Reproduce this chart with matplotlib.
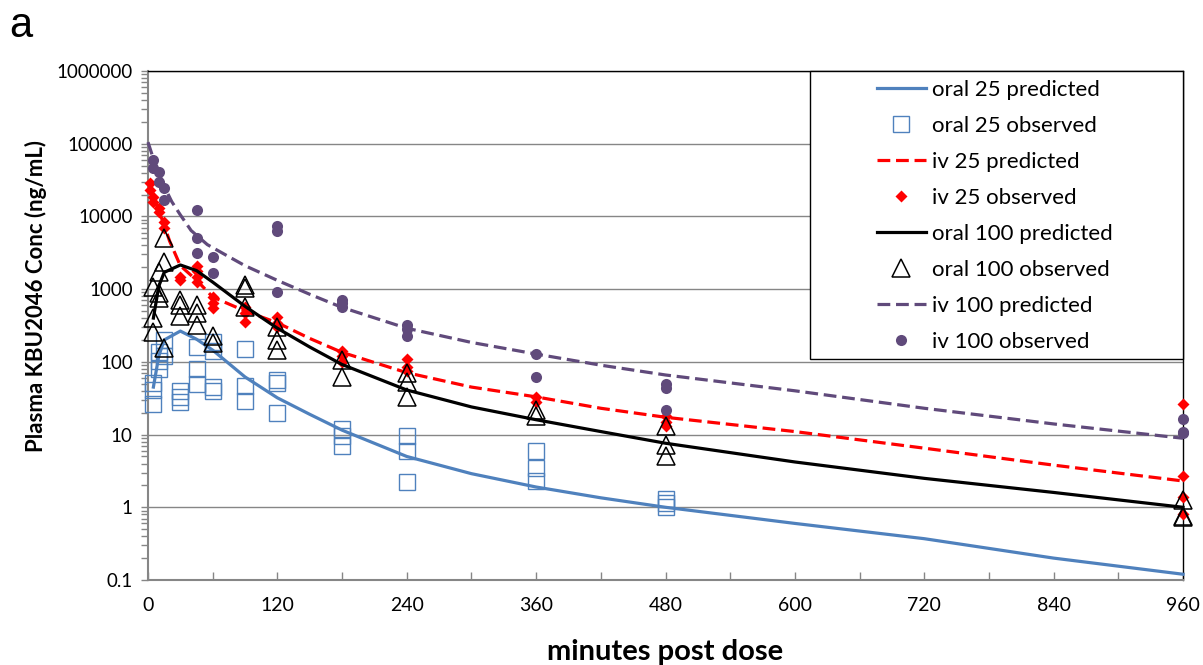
import matplotlib
matplotlib.use("Agg")
import matplotlib.pyplot as plt
from matplotlib.ticker import FixedLocator, FuncFormatter, LogLocator, NullFormatter
from matplotlib.patches import Rectangle

plt.rcParams['font.family'] = ['Lato', 'DejaVu Sans']

# model predictions (minutes, ng/mL)
oral25_pred_t = [5, 10, 15, 30, 45, 60, 90, 120, 150, 180, 240, 300, 360, 420, 480, 600, 720, 840, 960]
oral25_pred_c = [45, 120, 200, 265, 205, 145, 62, 32, 19, 11.5, 5.0, 2.9, 1.9, 1.35, 1.0, 0.6, 0.37, 0.2, 0.12]

iv25_pred_t = [0, 5, 10, 15, 20, 30, 45, 60, 90, 120, 150, 180, 240, 300, 360, 420, 480, 600, 720, 840, 960]
iv25_pred_c = [30000, 19000, 12000, 7600, 4600, 2100, 1330, 780, 500, 345, 210, 135, 71, 45, 33, 23, 17.3, 11, 6.5, 3.8, 2.3]

oral100_pred_t = [5, 10, 15, 30, 45, 60, 90, 120, 150, 180, 240, 300, 360, 420, 480, 600, 720, 840, 960]
oral100_pred_c = [400, 1100, 1700, 2150, 1800, 1250, 580, 290, 160, 92, 41, 24, 16, 11, 7.6, 4.2, 2.5, 1.6, 1.0]

iv100_pred_t = [0, 5, 10, 15, 22, 30, 40, 55, 73, 90, 120, 150, 180, 240, 300, 360, 420, 480, 600, 720, 840, 960]
iv100_pred_c = [105000, 62000, 40000, 26000, 16000, 10500, 6400, 4100, 2900, 2100, 1320, 850, 560, 290, 185,
                128, 90, 66, 40, 23, 14, 8.9]

# observed concentrations
oral25_obs_t = [5, 5, 5, 10, 10, 10, 15, 15, 30, 30, 30, 45, 45, 45, 60, 60, 60, 60,
                90, 90, 90, 120, 120, 120, 180, 180, 180, 240, 240, 240, 360, 360, 360, 480, 480, 480]
oral25_obs_c = [26, 41, 52, 81, 104, 135, 120, 200, 40, 33, 28, 160, 80, 50, 190, 140, 45, 40,
                150, 47, 29, 56, 52, 20, 12, 9.5, 7, 9.5, 6, 2.2, 6, 3.5, 2.3, 1.3, 1.15, 1.0]

iv25_obs_t = [2, 2, 5, 5, 10, 10, 15, 15, 30, 30, 45, 45, 45, 45, 60, 60, 60,
              90, 90, 90, 120, 120, 120, 180, 180, 180, 240, 240, 240, 360, 360, 480, 480, 480,
              960, 960, 960, 960]
iv25_obs_c = [29000, 23000, 18600, 16000, 13000, 11500, 8300, 6900, 1480, 1350, 2100, 1800, 1480, 1250,
              770, 640, 550, 560, 470, 350, 420, 340, 300, 140, 120, 100, 110, 85, 75, 33, 28,
              18, 15, 13, 26, 2.7, 1.4, 0.8]

oral100_obs_t = [5, 5, 5, 10, 10, 10, 15, 15, 15, 30, 30, 30, 45, 45, 45, 60, 60,
                 90, 90, 90, 120, 120, 120, 180, 180, 240, 240, 240, 360, 360, 480, 480, 480,
                 960, 960, 960]
oral100_obs_c = [1070, 400, 260, 1700, 890, 760, 5000, 2350, 155, 720, 600, 430, 600, 470, 320, 230, 180,
                 1150, 1050, 560, 300, 200, 145, 105, 62, 71, 53, 33, 22, 18, 13, 7.3, 5.0,
                 1.25, 0.75, 0.73]

iv100_obs_t = [5, 5, 10, 10, 15, 15, 45, 45, 45, 60, 60, 120, 120, 120,
               180, 180, 180, 240, 240, 240, 360, 360, 480, 480, 480, 960, 960, 960]
iv100_obs_c = [60000, 47000, 41000, 29500, 24500, 16600, 12300, 5000, 3100, 2800, 1650, 7500, 6400, 900,
               720, 650, 560, 320, 280, 230, 127, 62, 49, 44, 22, 16.5, 11, 10.5]

BLUE = '#4F81BD'
RED = '#FF0000'
PURPLE = '#604A7B'
GREY = '#868686'

fig = plt.figure(figsize=(12.03, 6.65), dpi=100)
ax = fig.add_axes([148 / 1203, 85 / 665, 1035 / 1203, 509 / 665])

ax.plot(oral25_pred_t, oral25_pred_c, color=BLUE, lw=2.3, label='oral 25 predicted', zorder=3)
ax.plot(oral25_obs_t, oral25_obs_c, ls='none', marker='s', ms=11.5, mfc='none', mec=BLUE, mew=1.0,
        label='oral 25 observed', zorder=4)
ax.plot(iv25_pred_t, iv25_pred_c, color=RED, lw=2.3, ls=(0, (4, 1.8)), label='iv 25 predicted', zorder=5)
ax.plot(iv25_obs_t, iv25_obs_c, ls='none', marker='D', ms=6.5, color=RED, mec='none',
        label='iv 25 observed', zorder=6)
ax.plot(oral100_pred_t, oral100_pred_c, color='black', lw=2.3, label='oral 100 predicted', zorder=7)
ax.plot(oral100_obs_t, oral100_obs_c, ls='none', marker='^', ms=13, mfc='none', mec='black', mew=1.1,
        label='oral 100 observed', zorder=8)
ax.plot(iv100_pred_t, iv100_pred_c, color=PURPLE, lw=2.3, ls=(0, (4, 1.8)), label='iv 100 predicted', zorder=9)
ax.plot(iv100_obs_t, iv100_obs_c, ls='none', marker='o', ms=8, color=PURPLE, mec='none',
        label='iv 100 observed', zorder=10)

ax.set_yscale('log')
ax.set_ylim(0.1, 1e6)
ax.set_xlim(0, 960)
for ln in ax.lines:
    ln.set_clip_on(False)

ax.yaxis.set_major_locator(LogLocator(base=10, numticks=20))
ax.yaxis.set_minor_locator(LogLocator(base=10, subs=range(2, 10), numticks=20))
ax.yaxis.set_minor_formatter(NullFormatter())
ax.yaxis.set_major_formatter(FuncFormatter(lambda v, _: '0.1' if v < 1 else f'{int(round(v))}'))
ax.xaxis.set_major_locator(FixedLocator(range(0, 961, 120)))
ax.xaxis.set_minor_locator(FixedLocator(range(60, 961, 120)))

ax.tick_params(axis='y', which='both', direction='out', length=5, width=1, color=GREY,
               labelsize=13.5, pad=6)
ax.tick_params(axis='x', which='both', direction='in', length=6, width=1, color=GREY,
               labelsize=14, pad=12)

ax.grid(axis='y', which='major', color=GREY, lw=1)
ax.set_axisbelow(True)
for side in ('left', 'bottom'):
    ax.spines[side].set_color(GREY)
    ax.spines[side].set_linewidth(1.5)
for side in ('top', 'right'):
    ax.spines[side].set_color('black')
    ax.spines[side].set_linewidth(1)

ax.set_xlabel('minutes post dose', fontsize=21, fontweight='bold', labelpad=18)
fig.text(36 / 1203, 1 - 296 / 665, 'Plasma KBU2046 Conc (ng/mL)', rotation=90, fontsize=16,
         fontweight='bold', ha='center', va='center')
fig.text(9 / 1203, 1 - 37 / 665, 'a', fontsize=30, family='Liberation Sans', va='baseline')

# legend box
x0 = (810 - 148) / 1035
y0 = (580 - 359) / 509
ax.add_patch(Rectangle((x0, y0), 1 - x0, 1 - y0, transform=ax.transAxes, facecolor='white',
                       edgecolor='black', lw=1, zorder=20, clip_on=False))
leg = ax.legend(loc='center', bbox_to_anchor=((995 - 148) / 1035, (580 - 216) / 509),
                frameon=False, fontsize=16, handlelength=2.2, handletextpad=0.3,
                labelspacing=0.72, borderpad=0)
leg.set_zorder(21)

fig.savefig('out.png', dpi=100)
